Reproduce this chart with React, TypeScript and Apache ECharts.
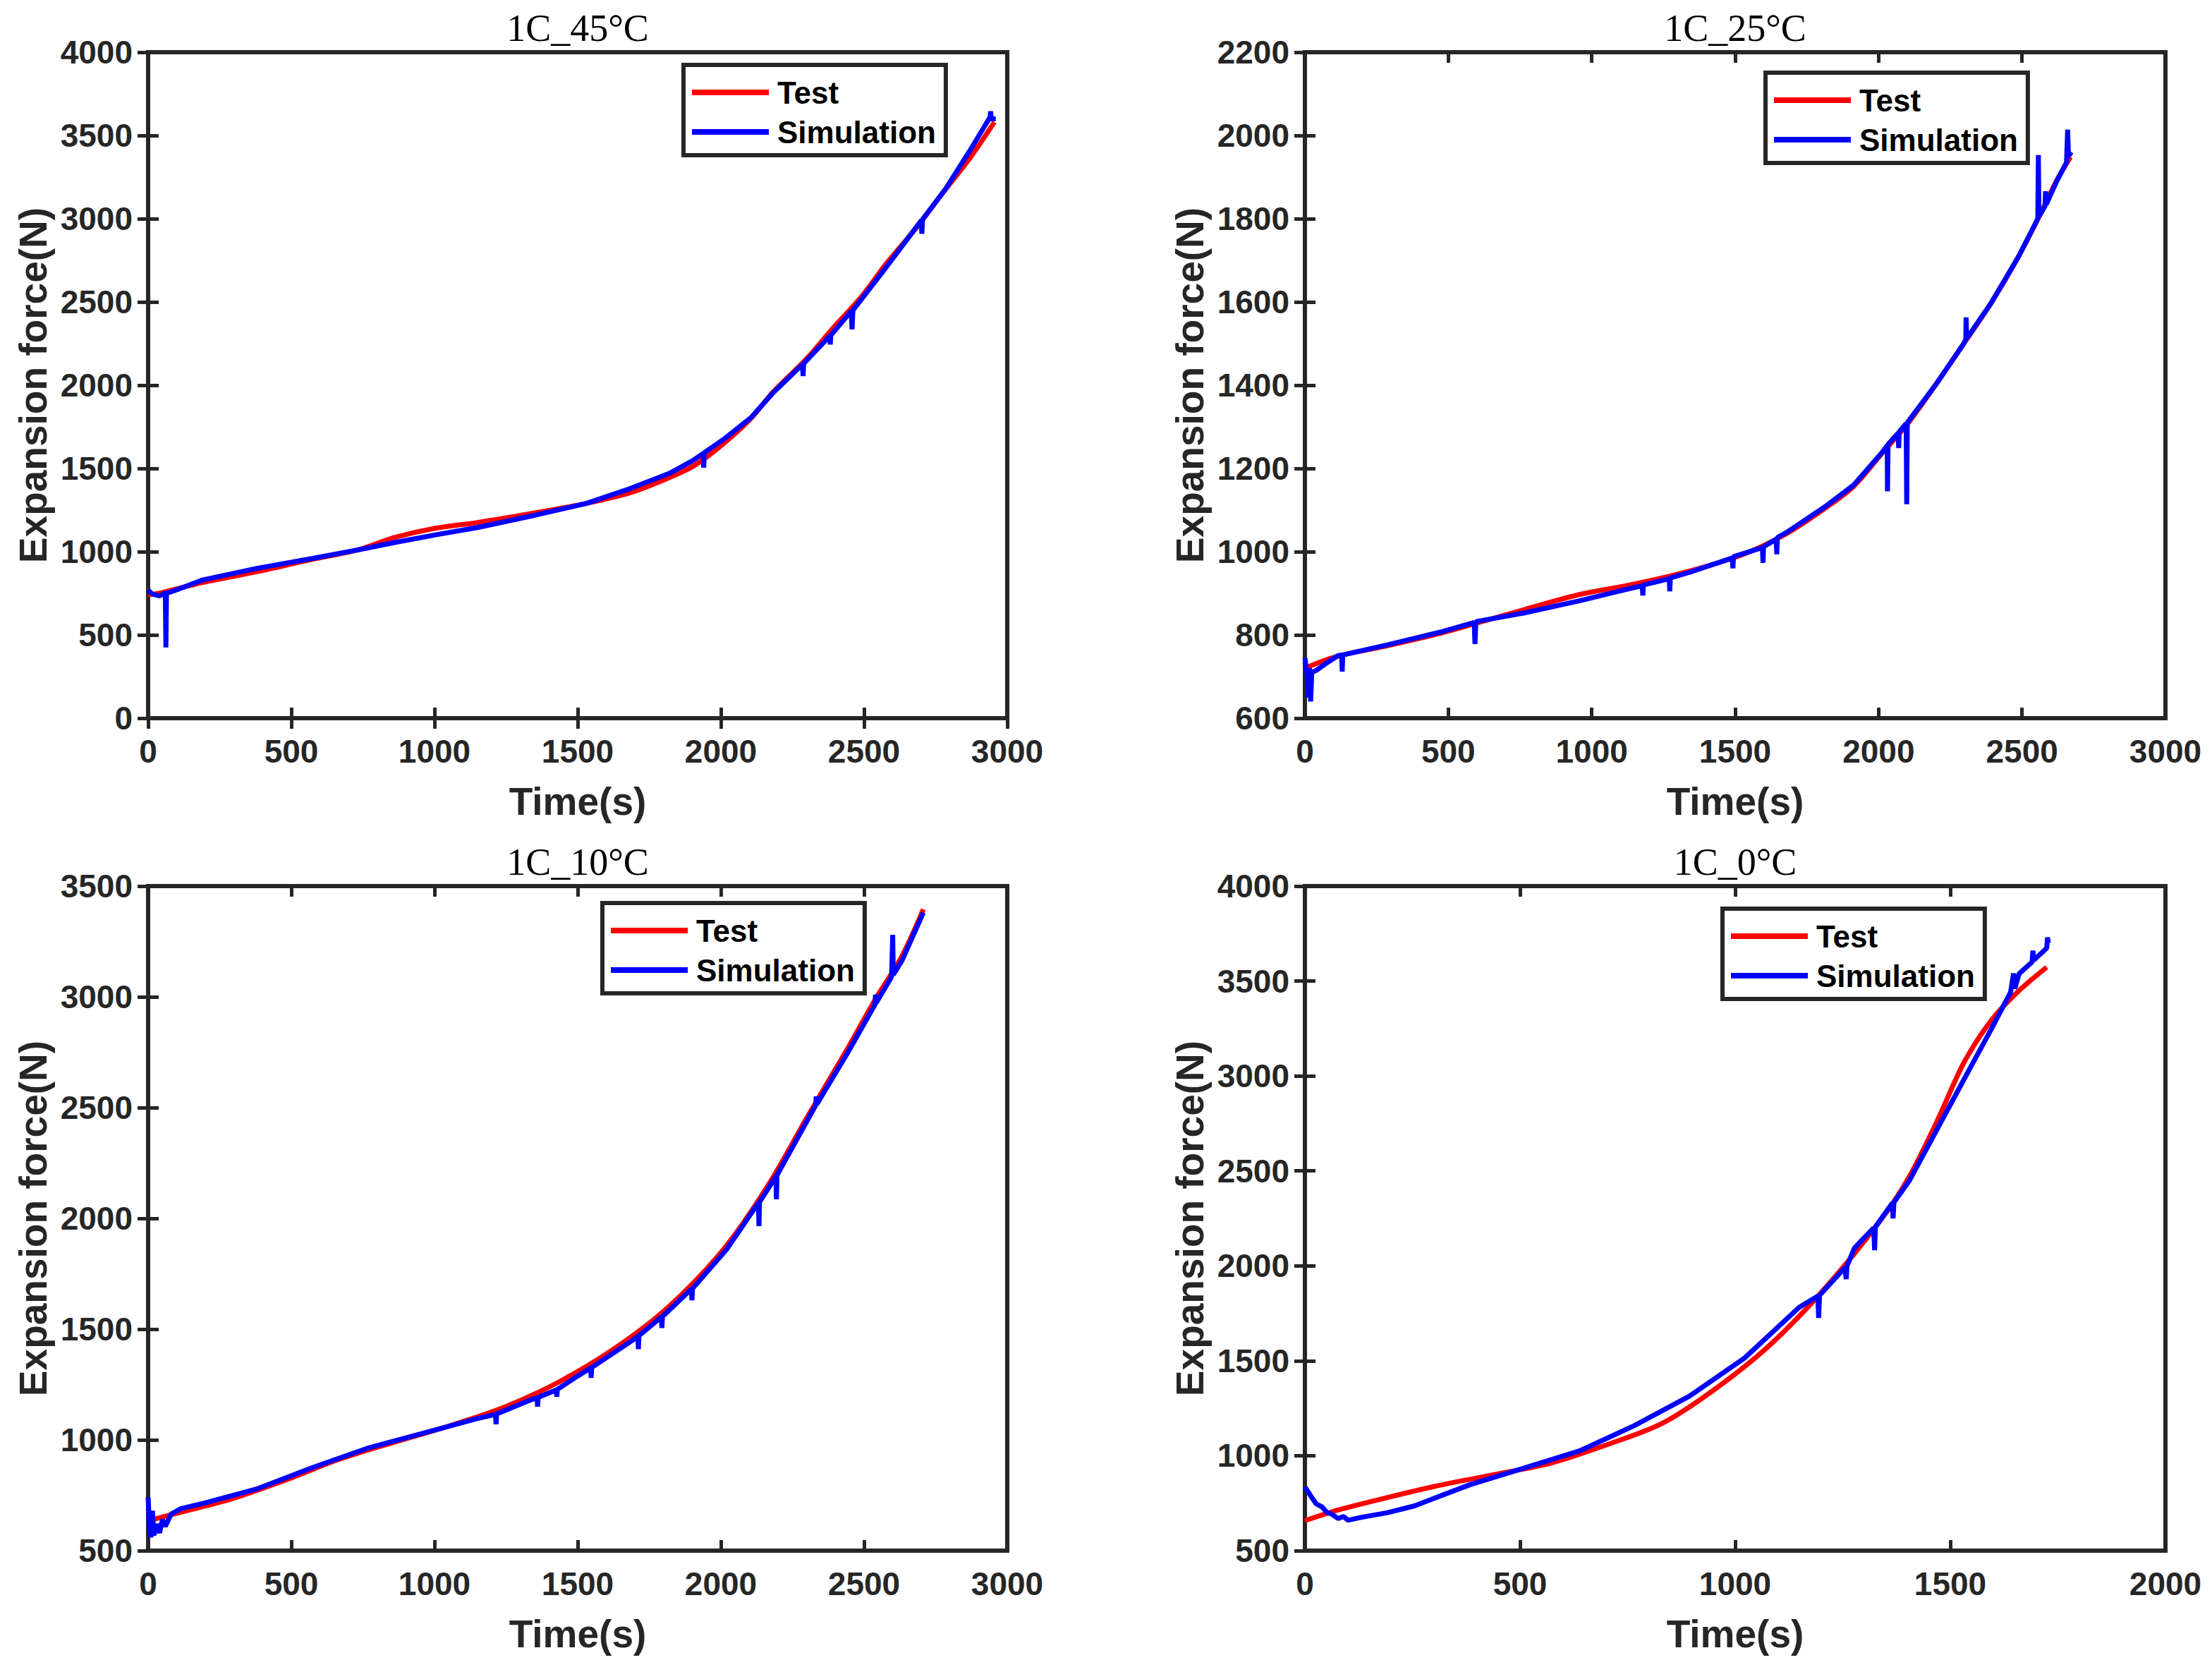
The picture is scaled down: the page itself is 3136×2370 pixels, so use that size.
import React, { useEffect, useRef } from "react";
import * as echarts from "echarts";

// ---------- data (time s, force N) ----------
const titles = ["1C_45°C", "1C_25°C", "1C_10°C", "1C_0°C"];
const xMaxes = [3000, 3000, 3000, 2000];
const yMins = [0, 600, 500, 500];
const yMaxes = [4000, 2200, 3500, 4000];
const yIntervals = [500, 200, 500, 500];

const test45 = [
  [0, 740], [50, 755], [190, 815], [380, 880], [575, 955], [730, 1010], [860, 1085], [1000, 1140],
  [1150, 1175], [1340, 1230], [1530, 1290], [1685, 1355], [1820, 1445], [1910, 1520], [2010, 1650],
  [2105, 1800], [2180, 1955], [2300, 2160], [2390, 2340], [2490, 2530], [2580, 2735], [2680, 2940],
  [2775, 3155], [2870, 3365], [2955, 3580],
];
const sim45 = [
  [0, 770], [15, 745], [40, 735], [55, 745], [60, 760], [62, 425], [64, 750], [90, 765], [190, 830],
  [380, 900], [575, 960], [730, 1010], [860, 1055], [1000, 1100], [1150, 1145], [1340, 1215],
  [1530, 1290], [1685, 1380], [1820, 1470], [1900, 1545], [1938, 1590], [1940, 1505], [1942, 1595],
  [2010, 1675], [2105, 1805], [2180, 1950], [2285, 2125], [2287, 2055], [2289, 2130], [2380, 2295],
  [2382, 2245], [2384, 2300], [2455, 2445], [2458, 2335], [2461, 2450], [2580, 2715], [2700, 2990],
  [2702, 2910], [2704, 2995], [2785, 3180], [2870, 3410], [2940, 3610], [2942, 3645], [2944, 3600],
  [2960, 3600],
];

const test25 = [
  [0, 715], [10, 723], [115, 749], [287, 774], [478, 805], [612, 831], [765, 861], [957, 897],
  [1148, 922], [1339, 953], [1530, 994], [1683, 1045], [1817, 1106], [1913, 1157], [2009, 1234],
  [2104, 1310], [2200, 1402], [2296, 1499], [2391, 1596], [2487, 1708], [2563, 1810], [2621, 1892],
  [2669, 1948],
];
const sim25 = [
  [0, 745], [8, 700], [12, 650], [16, 720], [20, 640], [24, 710], [40, 715], [70, 730], [115, 750],
  [128, 752], [130, 712], [132, 752], [287, 776], [478, 808], [590, 830], [593, 778], [596, 832],
  [765, 853], [957, 882], [1148, 914], [1176, 918], [1178, 895], [1180, 920], [1270, 935], [1272, 905],
  [1274, 937], [1339, 950], [1490, 985], [1492, 960], [1494, 988], [1595, 1010], [1597, 973],
  [1599, 1012], [1643, 1030], [1645, 994], [1647, 1034], [1683, 1048], [1817, 1110], [1913, 1160],
  [2009, 1236], [2030, 1255], [2031, 1145], [2033, 1258], [2068, 1285], [2070, 1249], [2072, 1288],
  [2096, 1308], [2098, 1114], [2100, 1310], [2200, 1402], [2296, 1499], [2304, 1510], [2305, 1563],
  [2307, 1512], [2391, 1596], [2487, 1708], [2555, 1800], [2557, 1953], [2559, 1805], [2580, 1830],
  [2582, 1866], [2584, 1834], [2621, 1890], [2655, 1935], [2659, 2014], [2662, 1950], [2672, 1960],
];

const test10 = [
  [0, 635], [115, 674], [287, 732], [478, 818], [670, 914], [861, 990], [1052, 1063], [1243, 1147],
  [1435, 1262], [1626, 1410], [1817, 1600], [2009, 1860], [2163, 2145], [2303, 2460], [2446, 2775],
  [2540, 2990], [2633, 3185], [2707, 3395],
];
const sim10 = [
  [0, 740], [5, 600], [10, 560], [15, 680], [20, 570], [30, 620], [40, 580], [50, 640], [60, 610],
  [80, 665], [115, 690], [191, 713], [383, 780], [574, 875], [765, 962], [957, 1029], [1148, 1096],
  [1213, 1115], [1215, 1071], [1217, 1117], [1339, 1182], [1358, 1190], [1360, 1150], [1362, 1192],
  [1425, 1225], [1427, 1195], [1429, 1228], [1502, 1290], [1545, 1325], [1547, 1280], [1549, 1327],
  [1692, 1450], [1710, 1468], [1712, 1410], [1714, 1470], [1792, 1555], [1794, 1505], [1796, 1557],
  [1880, 1660], [1897, 1680], [1899, 1630], [1901, 1683], [2020, 1860], [2131, 2070], [2133, 1965],
  [2135, 2074], [2163, 2130], [2192, 2190], [2194, 2086], [2196, 2195], [2303, 2445], [2331, 2510],
  [2333, 2550], [2335, 2515], [2446, 2755], [2538, 2965], [2540, 3010], [2542, 2972], [2596, 3090],
  [2600, 3280], [2602, 3100], [2633, 3165], [2707, 3380],
];

const test0 = [
  [0, 658], [77, 714], [192, 780], [319, 847], [447, 903], [575, 963], [702, 1058], [830, 1170],
  [958, 1359], [1085, 1592], [1213, 1893], [1341, 2249], [1405, 2471], [1469, 2761], [1532, 3072],
  [1596, 3295], [1660, 3450], [1724, 3573],
];
const sim0 = [
  [0, 836], [13, 790], [26, 747], [40, 730], [51, 702], [64, 690], [77, 669], [90, 680], [100, 660],
  [128, 674], [192, 700], [255, 736], [383, 847], [511, 936], [638, 1025], [766, 1159], [894, 1314],
  [1022, 1515], [1149, 1782], [1192, 1840], [1194, 1726], [1196, 1845], [1255, 1990], [1258, 1930],
  [1260, 2000], [1277, 2093], [1322, 2200], [1324, 2082], [1326, 2205], [1365, 2330], [1367, 2250],
  [1369, 2335], [1405, 2449], [1532, 2983], [1596, 3250], [1640, 3440], [1647, 3540], [1650, 3460],
  [1660, 3539], [1690, 3600], [1692, 3660], [1694, 3610], [1724, 3673], [1726, 3730], [1728, 3700],
];

const testSets = [test45, test25, test10, test0];
const simSets = [sim45, sim25, sim10, sim0];

// ---------- layout ----------
const AXIS_COLOR = "#262626";
const SANS = '"Liberation Sans", Arial, Helvetica, sans-serif';
const SERIF = '"Liberation Serif", "Times New Roman", serif';

const grids = [
  { left: 210, top: 74, width: 1218, height: 944 },
  { left: 1850, top: 74, width: 1220, height: 944 },
  { left: 210, top: 1256, width: 1218, height: 942 },
  { left: 1850, top: 1256, width: 1220, height: 942 },
];
const legendPos = [
  { left: 969, top: 92 },
  { left: 2503, top: 103 },
  { left: 854, top: 1280 },
  { left: 2442, top: 1288 },
];
const titleY = [40, 40, 1222, 1222];

function buildOption() {
  const tick = { show: true, inside: true, length: 15, lineStyle: { color: AXIS_COLOR, width: 5 } };
  const line = { show: true, lineStyle: { color: AXIS_COLOR, width: 6 } };
  const labelStyle = {
    fontFamily: SANS,
    fontWeight: "bold" as const,
    fontSize: 46,
    color: AXIS_COLOR,
    formatter: (v: number) => String(v),
  };
  const xAxis: any[] = [];
  const yAxis: any[] = [];
  const series: any[] = [];
  grids.forEach((_, g) => {
    xAxis.push({
      type: "value", gridIndex: g, min: 0, max: xMaxes[g], interval: 500, position: "bottom",
      axisLine: line, axisTick: tick, splitLine: { show: false },
      axisLabel: { ...labelStyle, margin: 24 },
      name: "Time(s)", nameLocation: "middle", nameGap: 90,
      nameTextStyle: { fontFamily: SANS, fontWeight: "bold", fontSize: 55, color: AXIS_COLOR },
    });
    xAxis.push({
      type: "value", gridIndex: g, min: 0, max: xMaxes[g], interval: 500, position: "top",
      axisLine: line, axisTick: tick, splitLine: { show: false }, axisLabel: { show: false },
    });
    yAxis.push({
      type: "value", gridIndex: g, min: yMins[g], max: yMaxes[g], interval: yIntervals[g], position: "left",
      axisLine: line, axisTick: tick, splitLine: { show: false },
      axisLabel: { ...labelStyle, margin: 22 },
      name: "Expansion force(N)", nameLocation: "middle", nameGap: 136, nameRotate: 90,
      nameTextStyle: { fontFamily: SANS, fontWeight: "bold", fontSize: 55, color: AXIS_COLOR },
    });
    yAxis.push({
      type: "value", gridIndex: g, min: yMins[g], max: yMaxes[g], interval: yIntervals[g], position: "right",
      axisLine: line, axisTick: tick, splitLine: { show: false }, axisLabel: { show: false },
    });
    series.push({
      name: "Test", type: "line", xAxisIndex: 2 * g, yAxisIndex: 2 * g, data: testSets[g],
      showSymbol: false, symbol: "none", smooth: 0.3,
      lineStyle: { color: "#ff0000", width: 7 }, itemStyle: { color: "#ff0000" },
      emphasis: { disabled: true },
    });
    series.push({
      name: "Simulation", type: "line", xAxisIndex: 2 * g, yAxisIndex: 2 * g, data: simSets[g],
      showSymbol: false, symbol: "none", smooth: false,
      lineStyle: { color: "#0000ff", width: 7 }, itemStyle: { color: "#0000ff" },
      emphasis: { disabled: true },
    });
  });

  const legend = legendPos.map((p) => ({
    left: p.left, top: p.top, orient: "vertical", data: ["Test", "Simulation"],
    icon: "rect", itemWidth: 109, itemHeight: 8, itemGap: 12,
    padding: [17, 14, 11, 12],
    borderColor: AXIS_COLOR, borderWidth: 6, backgroundColor: "#ffffff",
    selectedMode: false,
    textStyle: { fontFamily: SANS, fontWeight: "bold", fontSize: 44, color: "#000", padding: [0, 0, 0, 7] },
  }));

  const graphic = titles.map((t, g) => ({
    type: "text",
    x: grids[g].left + grids[g].width / 2,
    y: titleY[g],
    z: 100,
    style: { text: t, font: `54px ${SERIF}`, fill: "#000", align: "center", verticalAlign: "middle" },
  }));

  return {
    animation: false,
    backgroundColor: "#ffffff",
    grid: grids.map((g) => ({ ...g, show: true, borderColor: AXIS_COLOR, borderWidth: 6, backgroundColor: "transparent" })),
    xAxis, yAxis, series, legend, graphic,
  };
}

export default function App() {
  const ref = useRef<HTMLDivElement>(null);
  useEffect(() => {
    if (!ref.current) return;
    const chart = echarts.init(ref.current, undefined, { renderer: "svg" });
    chart.setOption(buildOption() as any);
    return () => chart.dispose();
  }, []);
  return (
    <div
      ref={ref}
      style={{ position: "absolute", left: 0, top: 0, width: 3136, height: 2370, background: "#fff" }}
    />
  );
}
